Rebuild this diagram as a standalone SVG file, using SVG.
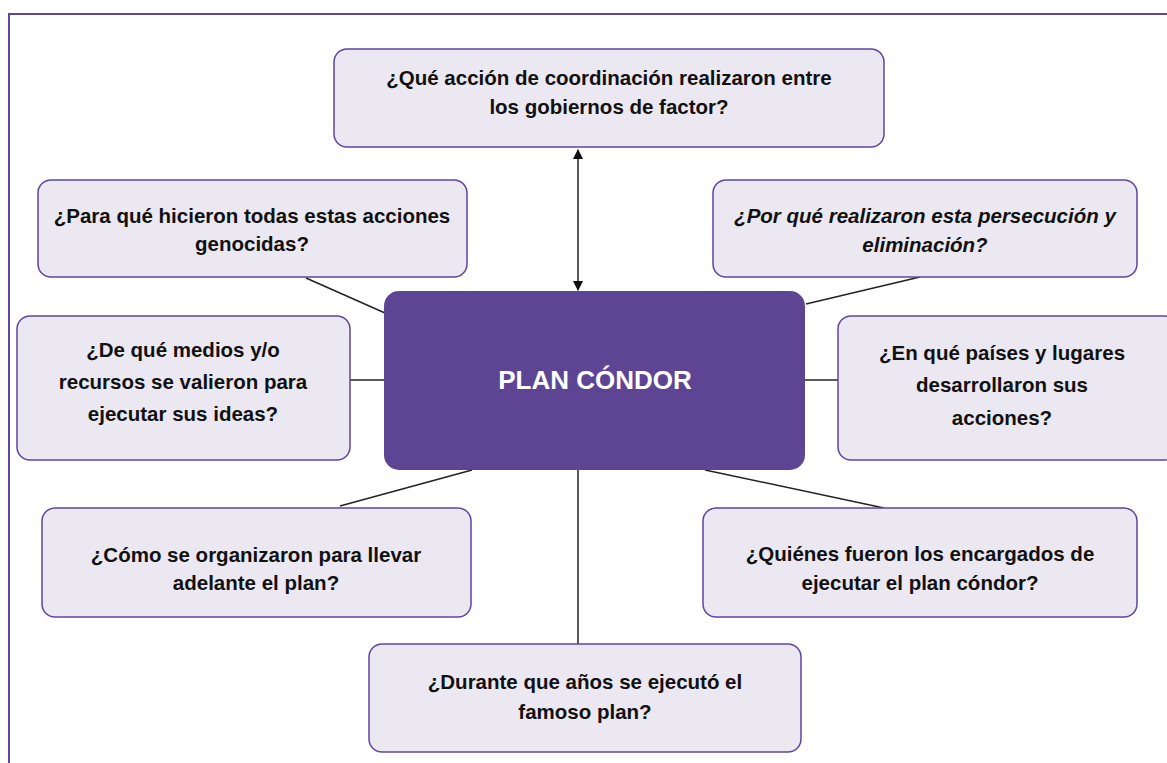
<svg xmlns="http://www.w3.org/2000/svg" width="1167" height="763" viewBox="0 0 1167 763">
<style>
.box{fill:#ebe8f2;stroke:#5f45a0;stroke-width:1.5}
.t{font-family:"Liberation Sans",Arial,sans-serif;font-weight:bold;font-size:20.5px;fill:#111;text-anchor:middle}
.it{font-style:italic}
.c{stroke:#222;stroke-width:1.5;fill:none}
</style>
<defs>
<marker id="ah" viewBox="0 0 10 10" refX="9" refY="5" markerWidth="7" markerHeight="7" orient="auto-start-reverse">
<path d="M0,0 L10,5 L0,10 z" fill="#111"/>
</marker>
</defs>
<rect x="0" y="0" width="1167" height="763" fill="#fff"/>
<path d="M9,763 V14 H1167" fill="none" stroke="#5f45a0" stroke-width="2"/>
<g id="connectors">
<line class="c" x1="578" y1="150" x2="578" y2="290" marker-start="url(#ah)" marker-end="url(#ah)"/>
<line class="c" x1="306" y1="278" x2="385" y2="313"/>
<line class="c" x1="806" y1="304" x2="920" y2="277"/>
<line class="c" x1="350" y1="380" x2="385" y2="380"/>
<line class="c" x1="805" y1="380" x2="838" y2="380"/>
<line class="c" x1="340" y1="506" x2="472" y2="470"/>
<line class="c" x1="705" y1="470" x2="884" y2="508"/>
<line class="c" x1="578" y1="470" x2="578" y2="644"/>
</g>
<g id="center">
<rect x="384" y="291" width="421" height="179" rx="15" fill="#5e4594"/>
<text x="595" y="389" font-family="'Liberation Sans',Arial,sans-serif" font-weight="bold" font-size="26" fill="#fff" text-anchor="middle">PLAN CÓNDOR</text>
</g>
<g id="n-top">
<rect class="box" x="334" y="49" width="550" height="98" rx="13"/>
<text class="t" x="609" y="85">¿Qué acción de coordinación realizaron entre</text>
<text class="t" x="609" y="114">los gobiernos de factor?</text>
</g>
<g id="n-para">
<rect class="box" x="38" y="180" width="429" height="97" rx="13"/>
<text class="t" x="252" y="223">¿Para qué hicieron todas estas acciones</text>
<text class="t" x="252" y="251">genocidas?</text>
</g>
<g id="n-porque">
<rect class="box" x="713" y="180" width="424" height="97" rx="13"/>
<text class="t it" x="925" y="223">¿Por qué realizaron esta persecución y</text>
<text class="t it" x="925" y="252">eliminación?</text>
</g>
<g id="n-medios">
<rect class="box" x="17" y="316" width="333" height="144" rx="13"/>
<text class="t" x="183" y="357">¿De qué medios y/o</text>
<text class="t" x="183" y="389">recursos se valieron para</text>
<text class="t" x="183" y="421">ejecutar sus ideas?</text>
</g>
<g id="n-paises">
<rect class="box" x="838" y="316" width="340" height="144" rx="13"/>
<text class="t" x="1002" y="360">¿En qué países y lugares</text>
<text class="t" x="1002" y="392">desarrollaron sus</text>
<text class="t" x="1002" y="425">acciones?</text>
</g>
<g id="n-como">
<rect class="box" x="42" y="508" width="429" height="109" rx="13"/>
<text class="t" x="256" y="562">¿Cómo se organizaron para llevar</text>
<text class="t" x="256" y="590">adelante el plan?</text>
</g>
<g id="n-quienes">
<rect class="box" x="703" y="508" width="434" height="109" rx="13"/>
<text class="t" x="920" y="561">¿Quiénes fueron los encargados de</text>
<text class="t" x="920" y="590">ejecutar el plan cóndor?</text>
</g>
<g id="n-durante">
<rect class="box" x="369" y="644" width="432" height="108" rx="13"/>
<text class="t" x="585" y="689">¿Durante que años se ejecutó el</text>
<text class="t" x="585" y="719">famoso plan?</text>
</g>
</svg>
